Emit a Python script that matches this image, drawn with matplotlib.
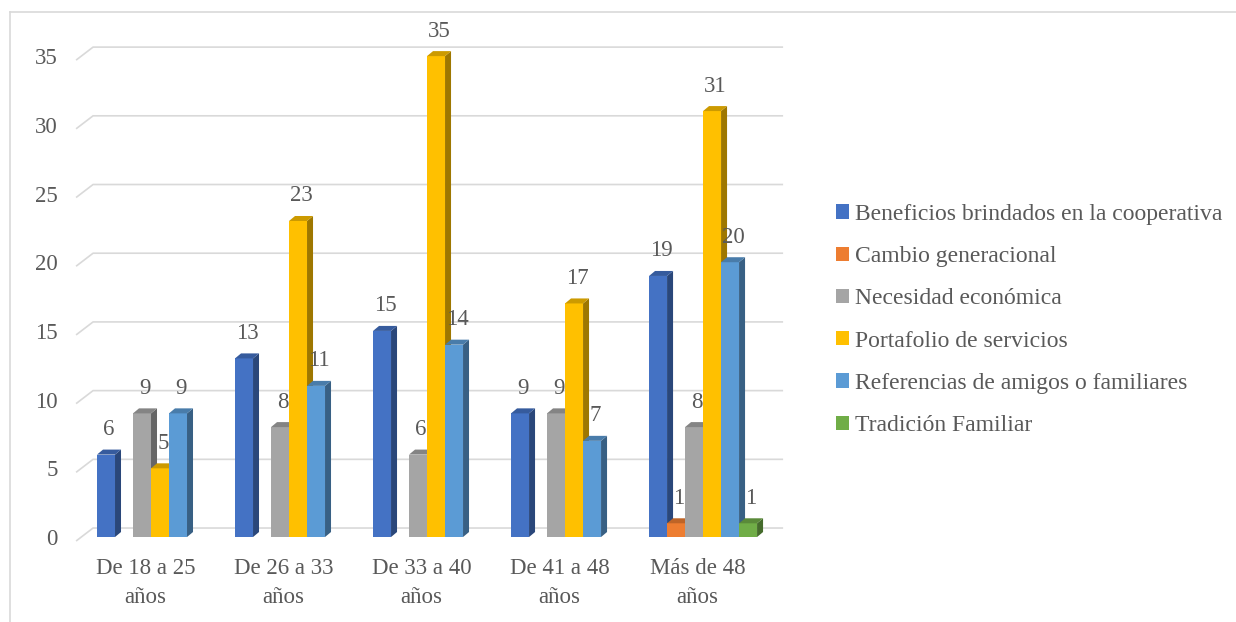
import numpy as np
import matplotlib.pyplot as plt
import matplotlib.colors as mcolors
from matplotlib.patches import Polygon, Patch
from matplotlib.lines import Line2D

plt.rcParams['font.family'] = ['Liberation Serif', 'DejaVu Serif']

# data
categories = ['De 18 a 25\naños', 'De 26 a 33\naños', 'De 33 a 40\naños',
              'De 41 a 48\naños', 'Más de 48\naños']
series_names = ['Beneficios brindados en la cooperativa', 'Cambio generacional',
                'Necesidad económica', 'Portafolio de servicios',
                'Referencias de amigos o familiares', 'Tradición Familiar']
beneficios = [6, 13, 15, 9, 19]
cambio = [None, None, None, None, 1]
necesidad = [9, 8, 6, 9, 8]
portafolio = [5, 23, 35, 17, 31]
referencias = [9, 11, 14, 7, 20]
tradicion = [None, None, None, None, 1]
all_series = [beneficios, cambio, necesidad, portafolio, referencias, tradicion]
colors = ['#4472C4', '#ED7D31', '#A5A5A5', '#FFC000', '#5B9BD5', '#70AD47']
yticks = [0, 5, 10, 15, 20, 25, 30, 35]

txt = '#595959'
grid_c = '#D9D9D9'


def shade(c, f):
    r, g, b = mcolors.to_rgb(c)
    return (r*f, g*f, b*f)


fig = plt.figure(figsize=(12.36, 6.22), dpi=100)
ax = fig.add_axes([70/1236, 1-543.9/622, 720/1236, (543.9-35.5)/622])
ax.set_xlim(-0.587, 4.630)
ax.set_ylim(-0.5, 36.5)

pxx = 720/5.217   # pixels per x unit
pxy = 508.4/37    # pixels per y unit
w = 18/pxx
dx = 6/pxx
dy = 5/pxy

# back wall gridlines with little 3d slant
for v in yticks:
    ax.plot([-0.543, -0.42, 4.58], [v-4/pxy, v+9/pxy, v+9/pxy],
            color=grid_c, lw=1.2, zorder=1, solid_capstyle='butt')

x = np.arange(len(categories))
for k, (vals, c) in enumerate(zip(all_series, colors)):
    idx = [i for i, v in enumerate(vals) if v is not None]
    hv = [vals[i] for i in idx]
    x0 = x[idx] + (k-3)*w
    ax.bar(x0, hv, width=w, align='edge', color=c, zorder=3)
    for xx, v in zip(x0, hv):
        side = Polygon([(xx+w, 0), (xx+w+dx, dy), (xx+w+dx, v+dy), (xx+w, v)],
                       closed=True, facecolor=shade(c, 0.62), edgecolor='none', zorder=3)
        top = Polygon([(xx, v), (xx+dx, v+dy), (xx+w+dx, v+dy), (xx+w, v)],
                      closed=True, facecolor=shade(c, 0.8), edgecolor='none', zorder=3)
        ax.add_patch(side)
        ax.add_patch(top)
        ax.annotate(str(v), (xx+w/2+dx/2, v), xytext=(0, 18), textcoords='offset points',
                    ha='center', va='center', fontsize=16.5, color=txt, zorder=5)

ax.set_yticks(yticks)
ax.set_xticks(x - 0.04)
ax.set_xticklabels(categories, linespacing=1.5)
ax.tick_params(axis='y', length=0, pad=9, labelsize=16.5, colors=txt)
ax.tick_params(axis='x', length=0, pad=10, labelsize=16.5, colors=txt)
for s in ax.spines.values():
    s.set_visible(False)

handles = [Patch(facecolor=c, edgecolor='none') for c in colors]
fig.legend(handles, series_names, loc='center left',
           bbox_to_anchor=(815/1236, 1-320/622), frameon=False, fontsize=17,
           handlelength=0.55, handleheight=0.55, handletextpad=0.25,
           labelspacing=0.9, labelcolor=txt)

# outer frame (left and top only visible)
fig.add_artist(Line2D([10/1236, 10/1236], [0, 1-12/622], transform=fig.transFigure,
                      color=grid_c, lw=1.2))
fig.add_artist(Line2D([10/1236, 1], [1-12/622, 1-12/622], transform=fig.transFigure,
                      color=grid_c, lw=1.2))

fig.savefig('out.png', dpi=100)
